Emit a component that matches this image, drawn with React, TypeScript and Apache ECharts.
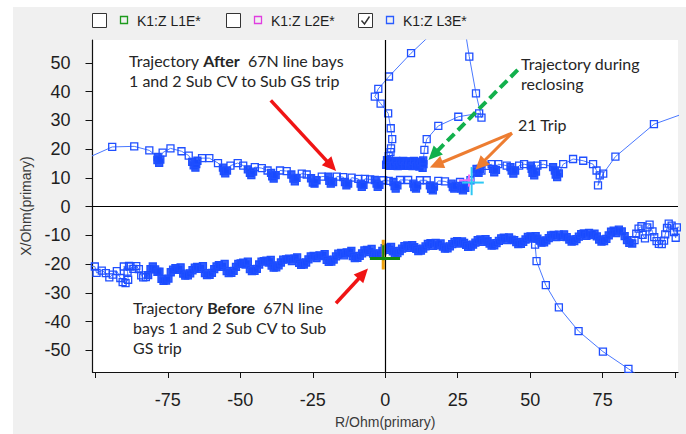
import React, { useEffect, useRef } from "react";
import * as echarts from "echarts";

// Axis ticks and labels
const xTickValues = [-100, -75, -50, -25, 0, 25, 50, 75, 100];
const xLabelValues = [-75, -50, -25, 0, 25, 50, 75];
const yTickValues = [-50, -40, -30, -20, -10, 0, 10, 20, 30, 40, 50];

// Legend entries (R/X impedance loops)
const legendItems = [
  { name: "K1:Z L1E*", color: "#1c9a1c", checked: false },
  { name: "K1:Z L2E*", color: "#e03ce0", checked: false },
  { name: "K1:Z L3E*", color: "#2a5cff", checked: true },
];

// Impedance trajectory before the trip [R, X] in Ohm primary
const beforeTrajectory = [
  [-104, -20.4], [-100.2, -20.8], [-99.6, -23.0], [-97.8, -22.2], [-96.4, -23.1], [-95.2, -24.6], [-94.0, -23.6], [-92.6, -22.4],
  [-91.4, -24.8], [-90.6, -26.2], [-89.6, -26.6], [-88.7, -25.4], [-88.9, -22.6], [-90.2, -20.8], [-88.4, -20.6],
  [-87.9, -20.8], [-86.9, -21.6], [-85.9, -20.7], [-85.0, -21.7], [-84.2, -23.9], [-83.5, -24.6], [-82.6, -24.5], [-81.8, -23.8], [-81.0, -21.7], [-80.2, -20.8],
  [-79.4, -21.8], [-78.6, -22.7], [-77.9, -22.6], [-77.2, -25.1], [-76.5, -25.8], [-75.6, -25.7], [-74.8, -25.0], [-74.0, -22.8], [-73.2, -21.9],
  [-72.4, -21.4], [-71.4, -22.0], [-70.6, -21.1], [-69.7, -23.3], [-69.0, -24.0], [-68.1, -23.9], [-67.3, -23.2], [-66.5, -22.1], [-65.7, -21.2],
  [-64.9, -20.9], [-63.9, -21.6], [-62.9, -20.7], [-62.2, -23.1], [-61.5, -23.8], [-60.6, -23.7], [-59.8, -23.0], [-59.0, -21.7], [-58.2, -20.8],
  [-57.4, -20.3], [-56.4, -20.9], [-55.4, -19.9], [-54.7, -22.4], [-54.0, -23.1], [-53.1, -23.0], [-52.3, -22.3], [-51.5, -20.9], [-50.7, -19.9], [-49.9, -19.7],
  [-49.0, -19.5], [-48.2, -20.1], [-47.4, -19.1], [-46.7, -21.7], [-46.0, -22.4], [-45.1, -22.3], [-44.3, -21.6], [-43.5, -20.1], [-42.7, -19.1], [-41.9, -18.9],
  [-41.0, -18.8], [-40.2, -19.4], [-39.5, -18.5], [-39.2, -20.5], [-38.5, -21.2], [-37.6, -21.1], [-36.8, -20.4], [-36.0, -19.4], [-35.2, -18.4], [-34.2, -18.3], [-33.2, -18.1], [-32.2, -18.9],
  [-31.3, -18.1], [-30.4, -17.6], [-29.7, -19.5], [-29.0, -20.2], [-28.1, -20.1], [-27.3, -19.4], [-26.5, -18.3], [-25.7, -17.3], [-24.7, -17.1], [-23.7, -17.9], [-22.7, -16.9],
  [-21.7, -17.2], [-20.9, -16.5], [-20.2, -18.5], [-19.5, -19.2], [-18.6, -19.1], [-17.8, -18.4], [-17.0, -17.3], [-16.2, -16.3], [-15.2, -16.1], [-14.2, -16.9], [-13.3, -15.9],
  [-12.4, -16.1], [-11.7, -15.4], [-11.2, -17.2], [-10.5, -17.9], [-9.6, -17.8], [-8.8, -17.1], [-8.0, -16.2], [-7.2, -15.2], [-6.3, -15.0], [-5.5, -15.8],
  [-4.7, -14.7], [-4.2, -16.3], [-3.5, -17.0], [-2.6, -16.9], [-1.8, -16.2], [-1.0, -15.4], [-0.2, -14.4], [0.6, -14.2], [1.4, -15.0],
  [2.0, -14.0], [2.6, -15.5], [3.3, -16.2], [4.2, -16.1], [5.0, -15.4], [5.8, -14.6], [6.6, -13.7], [7.6, -13.5], [8.5, -14.3], [9.3, -13.4],
  [10.0, -14.1], [10.7, -14.7], [11.4, -15.4], [12.3, -15.3], [13.1, -14.6], [13.9, -13.8], [14.7, -12.9], [15.6, -12.7], [16.5, -13.6], [17.4, -12.6], [18.2, -13.4],
  [19.1, -12.8], [19.9, -13.9], [20.6, -14.6], [21.5, -14.5], [22.3, -13.8], [23.1, -13.0], [23.9, -12.2], [24.8, -12.0], [25.7, -12.8], [26.5, -12.1],
  [27.2, -12.6], [27.9, -13.3], [28.6, -14.0], [29.5, -13.9], [30.3, -13.2], [31.1, -12.5], [31.9, -11.6], [32.8, -11.4], [33.7, -12.2], [34.6, -11.3],
  [35.3, -12.0], [36.0, -12.8], [36.7, -13.5], [37.6, -13.4], [38.4, -12.7], [39.2, -11.9], [40.0, -11.0], [40.9, -10.8], [41.8, -11.6], [42.7, -10.7], [43.6, -11.5],
  [44.5, -11.6], [45.2, -12.3], [45.9, -13.0], [46.8, -12.9], [47.6, -12.2], [48.4, -11.4], [49.2, -10.5], [50.1, -10.3], [51.0, -11.1], [51.9, -10.2],
  [52.5, -11.1], [53.2, -11.8], [53.9, -12.5], [54.8, -12.4], [55.6, -11.7], [56.4, -10.9], [57.2, -10.0], [58.1, -9.8], [59.0, -10.6], [59.9, -9.7], [60.8, -10.5], [61.7, -9.6],
  [62.6, -10.6], [63.5, -11.4], [64.3, -12.1], [65.2, -12.0], [66.0, -11.3], [66.8, -10.4], [67.6, -9.5], [68.5, -9.3], [69.4, -10.1], [70.3, -9.1], [71.2, -9.9],
  [72.2, -9.4], [73.0, -10.3], [73.8, -11.4], [74.6, -12.1], [75.5, -12.0], [76.3, -11.2], [77.1, -10.0], [77.9, -8.7], [78.8, -8.3], [79.7, -9.2], [80.6, -8.0],
  [81.6, -8.6], [82.6, -10.2], [83.4, -11.6], [84.2, -12.6], [85.2, -12.8], [86.0, -11.6], [86.6, -9.4], [87.4, -7.6], [88.4, -6.8], [88.8, -9.8], [89.6, -11.0],
  [90.4, -7.2], [91.2, -6.2], [92.2, -8.6], [92.8, -10.6], [93.6, -12.0], [94.4, -12.9], [95.4, -13.0], [96.2, -11.8], [96.6, -9.6], [97.2, -7.4], [97.8, -5.9],
  [98.8, -6.6], [99.6, -8.8], [100.2, -10.8], [100.6, -7.2], [104, -6.8],
];

// Excursion leaving the pre-trip band towards the fourth quadrant
const beforeBranch = [
  [51.7, -13.2], [52.2, -18.9], [55.4, -27.3], [59.9, -35.0], [66.7, -43.3], [75.1, -50.4], [83.9, -56.4], [93.0, -62.5],
];

// Impedance trajectory after the trip
const afterTrajectory = [
  [-106, 15.5], [-94.2, 20.8], [-86.6, 21.0], [-81.4, 19.6],
  [-78.5, 17.3], [-78.6, 16.2], [-78.0, 15.3], [-77.6, 16.4],
  [-76.8, 18.8], [-74.1, 20.3], [-70.3, 19.3], [-67.8, 17.8],
  [-66.6, 15.6], [-66.1, 14.4], [-65.5, 13.6], [-65.2, 14.8], [-64.8, 16.0],
  [-63.2, 16.9], [-60.7, 16.9], [-57.7, 15.2],
  [-56.0, 13.6], [-55.7, 12.4], [-55.2, 11.6], [-54.6, 12.6],
  [-53.4, 14.3], [-50.9, 15.2], [-49.0, 14.3],
  [-47.4, 13.0], [-46.7, 11.8], [-46.2, 11.0], [-45.6, 12.2],
  [-45.0, 13.8], [-42.6, 13.4], [-40.6, 12.6],
  [-39.4, 11.8], [-39.0, 10.6], [-38.5, 9.8], [-37.8, 11.0],
  [-36.3, 12.6], [-34.0, 12.4],
  [-32.4, 11.2], [-31.7, 9.8], [-31.2, 8.8], [-30.6, 10.0],
  [-28.8, 11.5], [-27.1, 11.2],
  [-25.6, 9.9], [-25.0, 8.4], [-24.4, 8.0], [-23.7, 9.2],
  [-21.9, 10.5], [-19.6, 10.5],
  [-19.3, 9.0], [-18.8, 8.0], [-18.0, 8.6],
  [-16.7, 10.5], [-14.5, 10.3],
  [-13.9, 8.6], [-13.4, 7.4], [-12.8, 8.0],
  [-11.6, 10.1], [-9.3, 9.7],
  [-8.5, 8.0], [-8.1, 6.9], [-7.5, 7.6],
  [-7.0, 9.7], [-5.2, 9.5], [-3.6, 9.3],
  [-3.0, 8.0], [-2.6, 6.9], [-2.0, 7.6],
  [-0.7, 9.2], [1.2, 9.0],
  [2.8, 8.6], [3.2, 7.2], [3.6, 6.3], [4.2, 7.4],
  [5.1, 9.3], [7.9, 9.3],
  [9.7, 8.0], [10.0, 6.8], [10.6, 6.3], [11.0, 7.4],
  [12.0, 9.2], [14.3, 9.2],
  [15.4, 7.4], [15.8, 6.2], [16.4, 5.7], [16.8, 7.0],
  [18.3, 9.0], [20.6, 8.8],
  [22.9, 8.0], [23.3, 6.8], [23.8, 6.3], [24.3, 7.2],
  [25.8, 8.6], [26.9, 7.4],
  [26.3, 6.3], [26.8, 5.7], [27.6, 6.6],
  [29.4, 9.2],
  [31.5, 12.0], [31.5, 13.2], [32.7, 13.2], [32.2, 11.8], [33.2, 12.6],
  [34.6, 14.2], [36.7, 14.8],
  [37.2, 13.2], [37.6, 12.0], [38.2, 12.8],
  [39.0, 14.8], [41.9, 14.3],
  [43.2, 13.8], [43.6, 12.6], [44.2, 11.5], [44.8, 12.6],
  [46.2, 14.3], [47.9, 14.8], [50.2, 14.3],
  [50.5, 13.2], [50.8, 11.8], [51.4, 10.9], [52.0, 12.2],
  [52.5, 14.3], [54.5, 14.8], [57.9, 13.8],
  [58.5, 12.6], [58.8, 11.2], [59.3, 10.3], [59.9, 11.6],
  [61.4, 14.8], [64.8, 16.6], [68.3, 16.0], [71.7, 14.8],
  [72.9, 12.6], [74.0, 10.9], [73.4, 7.4], [75.2, 11.5],
  [79.4, 17.4], [92.7, 28.7], [106, 33.5],
];

// Impedance trajectory during reclosing
const reclosingTrajectory = [
  [19.0, 63.0], [8.9, 53.4], [1.3, 45.3], [-2.4, 41.0], [-3.6, 38.3], [-1.6, 35.9], [1.0, 32.5],
  [1.9, 27.3], [2.4, 23.5], [2.0, 20.3], [1.8, 19.0], [1.2, 17.6],
  [0.6, 16.2], [0.3, 14.6], [1.4, 15.9], [1.7, 14.2], [2.6, 15.8], [3.0, 14.3], [3.8, 15.9], [4.3, 14.1],
  [5.0, 15.7], [5.6, 14.3], [6.2, 15.9], [6.9, 14.2], [7.4, 15.8], [8.2, 14.3], [8.6, 15.7], [9.4, 14.1],
  [9.9, 15.9], [10.6, 14.2], [11.2, 15.7], [11.8, 14.0], [12.4, 15.5], [12.9, 13.5], [13.2, 14.8], [13.1, 16.1],
  [13.5, 19.8], [14.3, 23.5], [18.3, 28.1], [25.2, 31.3], [32.4, 32.5], [33.2, 31.0], [31.3, 39.4],
  [29.0, 52.2], [27.3, 63.0],
];

// Cursor crosses
const orangeCursor = [[-0.7, -11.5], [-0.7, -21.8]];
const greenCursorH = [[-5.3, -18.0], [5.1, -18.0]];
const greenCursorV = [[-0.7, -13.4], [-0.7, -18.6]];
const magentaCursorH = [[25.4, 9.2], [30.6, 9.2]];
const magentaCursorV = [[28.9, 11.2], [28.9, 7.0]];
const cyanCursorV = [[29.8, 13.8], [29.8, 4.0]];
const cyanCursorH = [[26.5, 8.4], [34.0, 8.4]];

// Annotation arrows in R/X coordinates: from, to
const redArrowAfter = [[-39.5, 37.0], [-18.6, 14.2]];
const redArrowBefore = [[-17.0, -33.6], [-7.6, -23.3]];
const greenArrow = [[45.7, 47.6], [16.6, 18.0]];
const orangeArrowA = [[43.7, 25.6], [17.6, 14.6]];
const orangeArrowB = [[43.7, 25.6], [32.8, 14.6]];

const TRACE = "#1f4fff";
const TRACE_LINE = "#4a78ff";
const TRACE_FILL = "rgba(24,74,255,0.88)";
const TEXT = "#1e1e1e";
const ANNOT_FONT = "Lato, 'Open Sans', sans-serif";

const filled = (p: number[]) => ({ value: p, itemStyle: { color: TRACE_FILL } });

// Samples recorded many times over (dense dwell) are drawn with filled markers
function styled(data: number[][], dense: (p: number[]) => boolean) {
  return data.map((p) => (dense(p) ? filled(p) : p));
}

// Fill samples that sit right next to the previous or next sample (dwell clusters)
function clusterStyled(data: number[][]) {
  return data.map((p, i) => {
    const near = [data[i - 1], data[i + 1]].some(
      (q) => q && Math.abs(q[0] - p[0]) < 1.0 && Math.abs(q[1] - p[1]) < 1.6
    );
    return near ? filled(p) : p;
  });
}

function trajectory(name: string, data: any[]) {
  return {
    name,
    type: "line",
    data,
    symbol: "rect",
    symbolSize: 7,
    showAllSymbol: true,
    clip: true,
    silent: true,
    lineStyle: { color: TRACE_LINE, width: 1 },
    itemStyle: { color: "rgba(0,0,0,0)", borderColor: TRACE, borderWidth: 1.3 },
    emphasis: { disabled: true },
    z: 3,
  };
}

function cursor(data: number[][], color: string, width: number, z: number) {
  return {
    type: "line",
    data,
    symbol: "none",
    silent: true,
    lineStyle: { color, width },
    emphasis: { disabled: true },
    z,
  };
}

function arrow(seg: number[][], color: string, width: number, dashed: boolean) {
  return {
    type: "line",
    data: [],
    silent: true,
    z: 6,
    markLine: {
      silent: true,
      animation: false,
      symbol: ["none", "triangle"],
      symbolSize: [13, 14],
      label: { show: false },
      emphasis: { disabled: true },
      lineStyle: { color, width, type: dashed ? [10, 5] : "solid", opacity: 1 },
      itemStyle: { color },
      data: [[{ coord: seg[0] }, { coord: seg[1] }]],
    },
  };
}

function legendGraphics() {
  const xs = [92, 226, 358];
  const out: any[] = [];
  legendItems.forEach((item, i) => {
    const x = xs[i];
    out.push({
      type: "rect",
      shape: { x: x + 0.5, y: 13.5, width: 14, height: 14 },
      style: { fill: "#fff", stroke: "#333", lineWidth: 1 },
    });
    if (item.checked) {
      out.push({
        type: "polyline",
        shape: { points: [[x + 3.5, 20.5], [x + 6.5, 24], [x + 11.5, 16.5]] },
        style: { fill: "none", stroke: "#333", lineWidth: 1.4 },
      });
    }
    out.push({
      type: "rect",
      shape: { x: x + 28.5, y: 16.5, width: 7, height: 7 },
      style: { fill: "none", stroke: item.color, lineWidth: 1.3 },
    });
    out.push({
      type: "text",
      x: x + 45,
      y: 20.5,
      style: {
        text: item.name,
        fill: TEXT,
        font: "14px 'Liberation Sans', Arial, sans-serif",
        textVerticalAlign: "middle",
      },
    });
  });
  return out;
}

const rich = {
  n: { fontFamily: ANNOT_FONT, fontSize: 16, fill: "#262626", lineHeight: 20 },
  b: { fontFamily: ANNOT_FONT, fontSize: 16, fontWeight: "bold", fill: "#262626", lineHeight: 20 },
};

function note(x: number, y: number, text: string) {
  return {
    type: "text",
    x,
    y,
    z: 10,
    style: { text, rich, fill: "#262626", font: `16px ${ANNOT_FONT}`, lineHeight: 20, textVerticalAlign: "top" },
  };
}

const option: any = {
  animation: false,
  backgroundColor: "#f0f0f0",
  grid: {
    left: 92.5,
    top: 40,
    width: 585.5,
    height: 335,
    show: true,
    backgroundColor: "#ffffff",
    borderWidth: 0,
  },
  xAxis: {
    type: "value",
    min: -101,
    max: 101,
    name: "R/Ohm(primary)",
    nameLocation: "middle",
    nameGap: 43,
    nameTextStyle: { color: "#3a3a3a", fontSize: 14, fontFamily: "'Liberation Sans', Arial, sans-serif" },
    axisLine: { onZero: false, lineStyle: { color: "#111", width: 1.2 } },
    axisTick: { show: true, inside: false, length: 6, customValues: xTickValues, lineStyle: { color: "#111" } },
    axisLabel: {
      customValues: xLabelValues,
      margin: 19,
      color: TEXT,
      fontSize: 18,
      fontFamily: "'Liberation Sans', Arial, sans-serif",
    },
    splitLine: { show: false },
  },
  yAxis: {
    type: "value",
    min: -57.5,
    max: 58,
    name: "X/Ohm(primary)",
    nameLocation: "middle",
    nameGap: 60,
    nameTextStyle: { color: "#3a3a3a", fontSize: 14, fontFamily: "'Liberation Sans', Arial, sans-serif" },
    axisLine: { onZero: false, lineStyle: { color: "#111", width: 1.2 } },
    axisTick: { show: true, inside: false, length: 7, customValues: yTickValues, lineStyle: { color: "#111" } },
    axisLabel: {
      customValues: yTickValues,
      margin: 22,
      color: TEXT,
      fontSize: 18,
      fontFamily: "'Liberation Sans', Arial, sans-serif",
    },
    splitLine: { show: false },
  },
  graphic: [
    { type: "rect", shape: { x: 0, y: 0, width: 686, height: 7 }, style: { fill: "#fff" }, silent: true },
    { type: "rect", shape: { x: 0, y: 0, width: 13, height: 434 }, style: { fill: "#fff" }, silent: true },
    ...legendGraphics(),
    note(129, 50, "{n|Trajectory }{b|After}{n|  67N line bays}\n{n|1 and 2 Sub CV to Sub GS trip}"),
    note(521, 53, "{n|Trajectory during}\n{n|reclosing}"),
    note(518, 114, "{n|21 Trip}"),
    note(133, 297, "{n|Trajectory }{b|Before}{n|  67N line}\n{n|bays 1 and 2 Sub CV to Sub}\n{n|GS trip}"),
  ],
  series: [
    {
      type: "line",
      data: [],
      silent: true,
      z: 2,
      markLine: {
        silent: true,
        animation: false,
        symbol: "none",
        label: { show: false },
        emphasis: { disabled: true },
        lineStyle: { color: "#000", width: 1.2, type: "solid" },
        data: [{ xAxis: 0 }, { yAxis: 0 }],
      },
    },
    trajectory("K1:Z L3E*", styled(beforeTrajectory, (p) => p[0] > -82 && p[0] < 86)),
    trajectory("K1:Z L3E*", beforeBranch),
    trajectory("K1:Z L3E*", clusterStyled(afterTrajectory)),
    trajectory("K1:Z L3E*", styled(reclosingTrajectory, (p) => p[0] >= 0 && p[0] <= 13.3 && p[1] < 16.5)),
    cursor(orangeCursor, "#f0a20c", 3, 4),
    cursor(greenCursorH, "#128a12", 3, 5),
    cursor(greenCursorV, "#128a12", 2, 5),
    cursor(magentaCursorH, "#f06cf0", 2, 4),
    cursor(magentaCursorV, "#f06cf0", 2, 4),
    cursor(cyanCursorV, "#2ec8f4", 2, 5),
    cursor(cyanCursorH, "#2ec8f4", 2, 5),
    arrow(redArrowAfter, "#f01414", 3.5, false),
    arrow(redArrowBefore, "#f01414", 3.5, false),
    arrow(greenArrow, "#12b04c", 4, true),
    arrow(orangeArrowA, "#ed7d31", 3, false),
    arrow(orangeArrowB, "#ed7d31", 3, false),
  ],
};

export default function App() {
  const ref = useRef<HTMLDivElement>(null);
  useEffect(() => {
    const chart = echarts.init(ref.current as HTMLDivElement, null, { renderer: "svg" });
    chart.setOption(option);
    return () => chart.dispose();
  }, []);
  return (
    <div
      ref={ref}
      style={{ position: "absolute", left: 0, top: 0, width: 686, height: 434 }}
    />
  );
}
